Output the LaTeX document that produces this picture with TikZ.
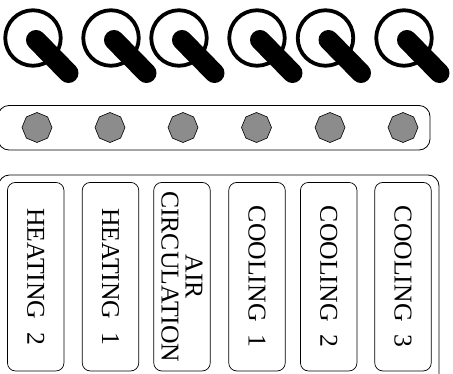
\documentclass[tikz,border=0pt]{standalone}
\usepackage{fontspec}
\setmainfont{Liberation Serif}
\usetikzlibrary{shapes.geometric}
\tikzset{x=1pt,y=-1pt,
 panel/.style={draw,line width=0.8pt,rounded corners=11pt},
 ring/.style={draw,line width=3.8pt,circle,minimum size=55.5pt,inner sep=0pt},
 lamp/.style={draw,fill=black!45,regular polygon,regular polygon sides=8,shape border rotate=22.5,minimum size=30pt,inner sep=0pt,line width=0.6pt},
 slot/.style={draw,line width=0.7pt,rounded corners=8pt,minimum width=56.5pt,minimum height=188.5pt,inner sep=0pt},
 slabel/.style={rotate=-90,font=\fontsize{25.7}{24}\selectfont,align=center},
 handle/.style={line width=20pt,line cap=round}}
\begin{document}
\begin{tikzpicture}
\useasboundingbox (0,0) rectangle (453,374);
\clip (0,0) rectangle (453,374);
\foreach \n/\x in {a/33,b/111,c/179,d/257,e/325.5,f/404}{
  \node[ring] (r\n) at (\x,38) {};
  \coordinate (s\n) at (\x+3,40);
  \coordinate (t\n) at (\x+35.5,73);
  \draw[handle] (s\n) -- (t\n);
}
\draw[panel] (-2,105.5) rectangle (430,150);
\foreach \n/\x in {a/37,b/110,c/183,d/256.5,e/330,f/403}{
  \node[lamp] (l\n) at (\x,127.5) {};
}
\draw[panel] (-1.5,175) rectangle (439,385);
\node[slot] (h2) at (35.7,276.7) {};
\node[slot] (h1) at (110.5,276.7) {};
\node[slot] (ac) at (182,276.7) {};
\node[slot] (c1) at (257,276.7) {};
\node[slot] (c2) at (328.7,276.7) {};
\node[slot] (c3) at (403,276.7) {};
\node[slabel] at (h2) {HEATING\hspace{13pt}2};
\node[slabel] at (h1) {HEATING\hspace{13pt}1};
\node[slabel] at (ac) {AIR\\CIRCULATION};
\node[slabel] at (c1) {COOLING\hspace{13pt}1};
\node[slabel] at (c2) {COOLING\hspace{13pt}2};
\node[slabel] at (c3) {COOLING\hspace{13pt}3};
\end{tikzpicture}
\end{document}
